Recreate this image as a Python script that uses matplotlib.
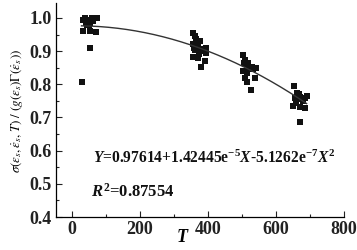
import numpy as np
import matplotlib
matplotlib.use("Agg")
import matplotlib.pyplot as plt
from matplotlib.ticker import MultipleLocator

# data
T_vals = [31, 38, 43, 53, 58, 73, 35, 40, 47, 50, 55, 45, 31, 53, 71, 53, 28, 62,
          357, 362, 376, 357, 362, 394, 394, 357, 372, 391, 378, 365, 370, 380, 385, 360, 368, 375,
          504, 509, 519, 529, 541, 504, 509, 538, 514, 526, 512, 520, 507, 533, 516, 524,
          653, 661, 670, 685, 690, 656, 651, 670, 685, 670, 664, 676, 680, 658, 667]
Y_vals = [0.995, 1.000, 0.990, 0.985, 1.000, 1.000, 0.993, 0.985, 0.995, 0.980, 0.990, 0.978, 0.960, 0.962, 0.958, 0.910, 0.808, 0.990,
          0.954, 0.945, 0.930, 0.920, 0.904, 0.910, 0.894, 0.883, 0.878, 0.870, 0.853, 0.935, 0.915, 0.900, 0.905, 0.910, 0.925, 0.890,
          0.888, 0.873, 0.863, 0.853, 0.848, 0.840, 0.818, 0.818, 0.806, 0.783, 0.860, 0.850, 0.865, 0.845, 0.835, 0.845,
          0.796, 0.773, 0.762, 0.758, 0.765, 0.758, 0.736, 0.733, 0.728, 0.686, 0.768, 0.755, 0.750, 0.745, 0.770]
fit_coef = [0.97614, 1.42445e-5, -5.1262e-7]
fit_range = [28, 690]
x_ticks = [0, 200, 400, 600, 800]
y_ticks = [0.4, 0.5, 0.6, 0.7, 0.8, 0.9, 1.0]

plt.rcParams['font.family'] = ['Liberation Serif', 'DejaVu Serif']
plt.rcParams['mathtext.fontset'] = 'custom'
plt.rcParams['mathtext.rm'] = 'Liberation Serif:bold'
plt.rcParams['mathtext.bf'] = 'Liberation Serif:bold'
plt.rcParams['mathtext.it'] = 'Liberation Serif:italic:bold'

fig = plt.figure(figsize=(3.57, 2.5), dpi=100)
ax = fig.add_axes([56/357, 33/250, 288/357, 214/250])

ax.plot(T_vals, Y_vals, 's', color='#111111', markersize=3.9, markeredgewidth=0)
xx = np.linspace(fit_range[0], fit_range[1], 200)
yy = fit_coef[0] + fit_coef[1]*xx + fit_coef[2]*xx**2
ax.plot(xx, yy, color='#333333', lw=1.0)

ax.set_xlim(-47, 800)
ax.set_ylim(0.4, 1.045)
ax.set_xticks(x_ticks)
ax.set_yticks(y_ticks)
ax.set_xticklabels([str(v) for v in x_ticks], fontweight='bold', fontsize=13)
ax.set_yticklabels([f"{v:.1f}" for v in y_ticks], fontweight='bold', fontsize=13)
ax.xaxis.set_minor_locator(MultipleLocator(100))
ax.yaxis.set_minor_locator(MultipleLocator(0.05))
ax.tick_params(which='both', direction='in', width=0.8, colors='#222222')
ax.tick_params(which='major', length=4, pad=3)
ax.tick_params(which='minor', length=2)
for s in ['top', 'right']:
    ax.spines[s].set_visible(False)
for s in ['left', 'bottom']:
    ax.spines[s].set_linewidth(0.9)

ax.text(0.128, 0.276,
        r"$Y$=0.97614+1.42445e$^{-5}$$X$-5.1262e$^{-7}$$X^2$",
        transform=ax.transAxes, fontsize=11.2, fontweight='bold', color='#111111', va='center')
ax.text(0.122, 0.117, r"$R^2$=0.87554",
        transform=ax.transAxes, fontsize=12, fontweight='bold', color='#111111', va='center')

ax.set_xlabel(r"$T$", fontsize=13)
ax.xaxis.set_label_coords((183-56)/288, -(237-217)/214, transform=ax.transAxes)
ax.xaxis.label.set_va('center')
yl = ax.set_ylabel(r"$\sigma(\varepsilon_s,\dot{\varepsilon}_s,T)\ /\ (g(\varepsilon_s)\Gamma(\dot{\varepsilon}_s))$",
                   fontsize=9.4)
yl.set_math_fontfamily('stix')
ax.yaxis.set_label_coords(-(56-25)/288, (217-111)/214, transform=ax.transAxes)

fig.savefig("out.png", dpi=100)
